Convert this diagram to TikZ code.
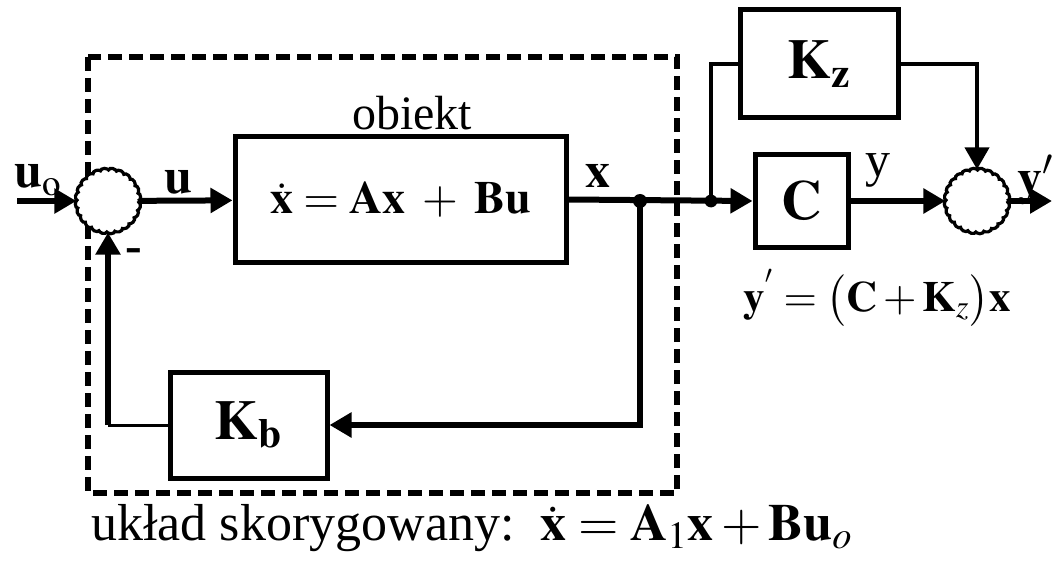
\documentclass[tikz,border=0pt]{standalone}
\usepackage{mathptmx}
\usepackage[no-math]{fontspec}
\setmainfont{Liberation Serif}
\usetikzlibrary{arrows.meta,decorations.pathmorphing}
\tikzset{
  >={Triangle[length=11pt,width=12pt]},
  block/.style={draw, line width=2.5pt, inner sep=0pt, font=\fontsize{28}{30}\selectfont},
  sumnode/.style={circle, draw, fill=white, line width=1.6pt, minimum size=30pt, inner sep=0pt,
    decorate, decoration={bumps, segment length=7.8pt, amplitude=-1.3pt}},
  sig/.style={->, line width=3pt},
  side/.style={line width=2pt},
  thinline/.style={line width=1.5pt},
  dashbox/.style={line width=2.8pt, dash pattern=on 7pt off 3.5pt},
  lbl/.style={font=\fontsize{25}{27}\selectfont, inner sep=0pt},
  txt/.style={font=\fontsize{25}{27}\selectfont, inner sep=0pt},
}

\begin{document}
\begin{tikzpicture}[x=0.5pt,y=-0.5pt]
  \useasboundingbox (0,0) rectangle (1053,561);
  \clip (0,0) rectangle (1053,561);

  % Corrected system frame.
  \draw[dashbox] (88,57) rectangle (677,493);

  % Blocks and summing junctions.
  \node[sumnode] (s1) at (108,201) {};
  \node[block, minimum width=165.5pt, minimum height=62.5pt,
    font=\fontsize{23}{25}\selectfont] (obj) at (400.5,199.5)
    {$\dot{\mathbf{x}} = \mathbf{A}\mathbf{x}\;+\;\mathbf{B}\mathbf{u}$};
  \node[txt, font=\fontsize{24}{26}\selectfont] (objname) at (412,113) {obiekt};
  \node[block, minimum width=78.5pt, minimum height=53pt] (Kb) at (248.5,425)
    {$\mathbf{K}_{\mathbf{b}}$};
  \node[block, minimum width=46.5pt, minimum height=46pt] (C) at (801.5,201)
    {$\mathbf{C}$};
  \node[block, minimum width=79pt, minimum height=54pt] (Kz) at (819,64)
    {$\mathbf{K}_{\mathbf{z}}$};
  \node[sumnode] (s2) at (977,201) {};

  \coordinate (in) at (17,201);
  \coordinate (out) at (1052,201);
  \coordinate (j1) at (640,201);
  \coordinate (j2) at (711,201);
  \coordinate (fb) at (108,425);

  % Forward path.
  \draw[sig] (in) -- (s1);
  \draw[sig] (s1) -- (obj);
  \draw[sig] (obj.east) -- (C.west);
  \draw[sig] (C) -- (s2);
  \draw[sig] (s2) -- (out);
  \fill (j1) circle[radius=3.5pt];
  \fill (j2) circle[radius=3.2pt];

  % State feedback through Kb.
  \draw[sig] (j1) |- (Kb.east);
  \draw[thinline] (Kb.west) -- (fb);
  \draw[sig] (fb) -- (s1);

  % Output correction through Kz.
  \draw[side] (j2) |- (Kz.west);
  \draw[side, ->] (Kz.east) -| (s2);

  % Signal labels.
  \node[lbl] (lu0) at (38,180) {$\mathbf{u}_{\mathrm{o}}$};
  \node[lbl] (lu) at (178,182) {$\mathbf{u}$};
  \node[lbl] (lminus) at (134,256) {\textbf{-}};
  \node[lbl] (lx) at (598,176) {$\mathbf{x}$};
  \node[lbl] (ly) at (878,170) {y};
  \node[lbl] (lyp) at (1036,180) {$\mathbf{y}'$};

  % Equations.
  \node[txt, font=\fontsize{21.5}{23}\selectfont] (eqy) at (877,298)
    {$\mathbf{y}^{'} = \bigl(\mathbf{C}+\mathbf{K}_{z}\bigr)\mathbf{x}$};
  \node[txt, font=\fontsize{26}{28}\selectfont] (eqsys) at (472,528)
    {układ skorygowany:\ \ $\dot{\mathbf{x}} = \mathbf{A}_1\mathbf{x} + \mathbf{B}\mathbf{u}_o$};
\end{tikzpicture}
\end{document}
